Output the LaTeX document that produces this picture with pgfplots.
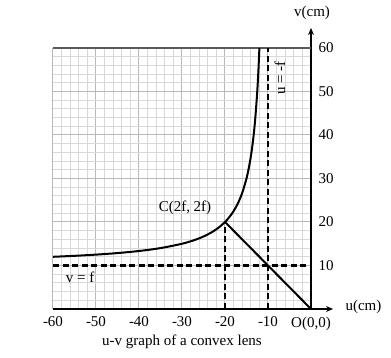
\documentclass[border=0pt]{standalone}
\usepackage{fontspec}
\setmainfont{Liberation Serif}
\usepackage{pgfplots}
\pgfplotsset{compat=1.18}
\usetikzlibrary{arrows.meta}
\begin{document}
\begin{tikzpicture}[font=\fontsize{15}{18}\selectfont]
\begin{axis}[
  at={(0pt,0pt)}, anchor=south west,
  scale only axis, width=258pt, height=261pt,
  xmin=-60, xmax=0, ymin=0, ymax=60,
  axis x line=bottom, axis y line=right,
  x axis line style={-{Stealth[length=7pt,width=6pt]}, line width=1.3pt, shorten >=-22pt},
  y axis line style={-{Stealth[length=7pt,width=6pt]}, line width=1.3pt, shorten >=-20pt},
  xtick={-60,-50,...,0},
  xticklabels={-60,-50,-40,-30,-20,-10,{O(0,0)}},
  ytick={0,10,...,60},
  yticklabels={,10,20,30,40,50,60},
  /pgf/number format/assume math mode=true,
  tick style={draw=none},
  minor tick num=4,
  grid=both,
  minor grid style={line width=1pt, black!15},
  major grid style={line width=1pt, black!28},
  xticklabel style={yshift=-2pt},
  yticklabel style={xshift=2pt},
  clip=false,
]
\draw[line width=1.2pt, black!65] (axis cs:-60,60) -- (axis cs:0,60);
\addplot[black, line width=2pt, smooth] coordinates {
(-60,12) (-55,12.222) (-50,12.5) (-45,12.857) (-40,13.333) (-35,14) (-30,15)
(-27,15.882) (-25,16.667) (-23,17.692) (-21.5,18.696) (-20,20) (-19,21.111) (-18,22.5) (-17,24.286) (-16,26.667)
(-15,30) (-14.5,32.222) (-14,35) (-13.5,38.571) (-13,43.333) (-12.5,50) (-12.2,55.455) (-12,60)
};
\addplot[black, line width=2.5pt, dash pattern=on 6pt off 3.5pt] coordinates {(-10,0) (-10,60)};
\addplot[black, line width=2.5pt, dash pattern=on 6pt off 3.5pt] coordinates {(-60,10) (0,10)};
\addplot[black, line width=2.5pt, dash pattern=on 6pt off 3.5pt] coordinates {(-20,0) (-20,20)};
\addplot[black, line width=2pt] coordinates {(-20,20) (0,0)};
\node at (axis cs:-29.3,23.2) {C(2f, 2f)};
\node at (axis cs:-53.7,7.2) {v = f};
\node[rotate=90] at (axis cs:-7.2,53.1) {u = -f};
\end{axis}
\node[anchor=west] at (289pt,2pt) {u(cm)};
\node at (259pt,296pt) {v(cm)};
\node at (129pt,-33pt) {u-v graph of a convex lens};
\path[use as bounding box] (-53pt,-49pt) rectangle (338pt,309pt);
\end{tikzpicture}
\end{document}
